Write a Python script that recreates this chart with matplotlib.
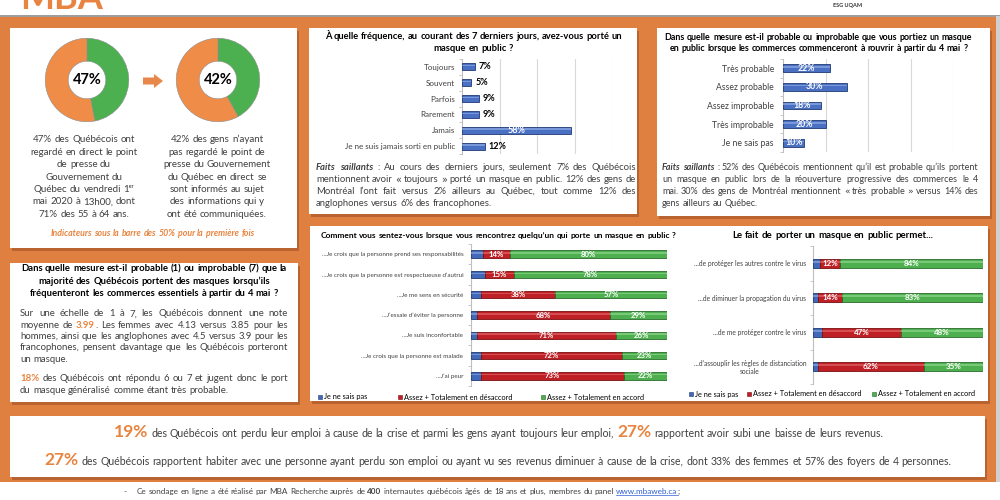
import matplotlib
matplotlib.use("Agg")
import matplotlib.pyplot as plt
from matplotlib.patches import Rectangle, Polygon

plt.rcParams['font.family'] = ['Lato', 'DejaVu Sans']

# ---------------- data ----------------
donut_pct = [47, 42]
donut_txt1 = ["47% des Québécois ont", "regardé en direct le point", "de presse du",
              "Gouvernement du", "Québec du vendredi 1ᵉʳ", "mai 2020 à 13h00, dont",
              "71% des 55 à 64 ans."]
donut_txt2 = ["42% des gens n’ayant", "pas regardé le point de", "presse du Gouvernement",
              "du Québec en direct se", "sont informés au sujet", "des informations qui y",
              "ont été communiquées."]

freq_cat = ["Toujours", "Souvent", "Parfois", "Rarement", "Jamais",
            "Je ne suis jamais sorti en public"]
freq_val = [7, 5, 9, 9, 58, 12]

prob_cat = ["Très probable", "Assez probable", "Assez improbable", "Très improbable",
            "Je ne sais pas"]
prob_val = [22, 30, 18, 20, 10]

feel_cat = ["...Je crois que la personne prend ses responsabilités",
            "...Je crois que la personne est respectueuse d’autrui",
            "...Je me sens en sécurité",
            "...J’essaie d’éviter la personne",
            "...Je suis inconfortable",
            "...Je crois que la personne est malade",
            "...J’ai peur"]
feel_nsp = [6, 7, 5, 3, 3, 5, 5]
feel_des = [14, 15, 38, 68, 71, 72, 73]
feel_acc = [80, 78, 57, 29, 26, 23, 22]

permet_cat = ["...de protéger les autres contre le virus",
              "...de diminuer la propagation du virus",
              "...de me protéger contre le virus",
              "...d’assouplir les règles de distanciation\nsociale"]
permet_nsp = [4, 3, 5, 3]
permet_des = [12, 14, 47, 62]
permet_acc = [84, 83, 48, 35]

legend_txt = ["Je ne sais pas", "Assez + Totalement en désaccord", "Assez + Totalement en accord"]

# ---------------- colours ----------------
BG = '#E08040'
SHADOW = '#A9592A'
TXT = '#404040'
ORTXT = '#E8843F'
GREEN_D = '#4CB050'
ORANGE_D = '#EF8C47'
BLUE = ('#4169B8', '#8FA9E0', '#1F3A73')
RED = ('#BE2026', '#E0686B', '#7A0F12')
GREEN = ('#4DAF4E', '#92D98F', '#2A6B2B')

fig = plt.figure(figsize=(10, 5), dpi=100)
base = fig.add_axes([0, 0, 1, 1])
base.set_xlim(0, 1000)
base.set_ylim(500, 0)
base.axis('off')
renderer = fig.canvas.get_renderer()


# ---------------- text helpers ----------------
def tw(s, **kw):
    t = base.text(0, 0, s, **kw)
    w = t.get_window_extent(renderer).width
    t.remove()
    return w


def tokens(segs):
    out = []
    for s, st in segs:
        for i, p in enumerate(s.split(' ')):
            if p:
                st2 = st
                if p in ('«', '»'):
                    st2 = dict(st, family='DejaVu Sans')
                out.append((p, st2, i > 0))
    return out


def metrics(segs, size, color):
    toks = tokens(segs)
    kws = []
    for p, st, g in toks:
        kw = dict(fontsize=size, color=color)
        kw.update(st)
        kws.append(kw)
    ws = [tw(p, **kw) for (p, _, _), kw in zip(toks, kws)]
    sp = tw('a a', fontsize=size) - tw('aa', fontsize=size)
    gaps = [g for (_, _, g) in toks]
    gaps[0] = False
    return toks, kws, ws, sp, gaps


def natural(segs, size, color=TXT):
    toks, kws, ws, sp, gaps = metrics(segs, size, color)
    return sum(ws) + sp * sum(gaps)


def put_line(segs, x0, x1, yc, size, mode='left', color=TXT):
    toks, kws, ws, sp, gaps = metrics(segs, size, color)
    ng = sum(gaps)
    gap = (x1 - x0 - sum(ws)) / ng if (mode == 'justify' and ng) else sp
    total = sum(ws) + gap * ng
    x = x0 if mode != 'center' else (x0 + x1) / 2 - total / 2
    yb = yc + 0.36 * size * 100 / 72
    placed = []
    for (p, st, g), kw, w, gg in zip(toks, kws, ws, gaps):
        if gg:
            x += gap
        base.text(x, yb, p, ha='left', va='baseline', **kw)
        placed.append((p, x, w, yb))
        x += w
    return placed


def seg(s):
    return [(s, {})] if isinstance(s, str) else s


def fit(lines, width, size=8, color=TXT):
    nat = max(natural(seg(l), size, color) for l in lines)
    return size * width / nat


def para(lines, x0, x1, y0, dy, size, color=TXT):
    for i, l in enumerate(lines):
        mode = 'justify' if i < len(lines) - 1 else 'left'
        put_line(seg(l), x0, x1, y0 + i * dy, size, mode, color)


def panel(x0, y0, x1, y1):
    base.add_patch(Rectangle((x0 + 2, y0 + 2.5), x1 - x0, y1 - y0, color=SHADOW, lw=0, alpha=0.7))
    base.add_patch(Rectangle((x0, y0), x1 - x0, y1 - y0, color='white', lw=0))


BOLD = dict(fontweight='bold')
BI = dict(fontweight='bold', fontstyle='italic')
ORB = dict(fontweight='bold', color=ORTXT)

# ---------------- background ----------------
base.add_patch(Rectangle((0, 16), 1000, 466, color=BG, lw=0))
base.add_patch(Rectangle((0, 15), 1000, 1.5, color='#9E9E9E', lw=0))
base.add_patch(Rectangle((996, 16), 4, 466, color='#D0D0D0', lw=0))
base.text(20, 9, "MBA", fontsize=26, fontweight='bold', color=ORTXT, ha='left', va='baseline')
base.text(833, 5, "ESG UQAM", fontsize=4, fontweight='bold', color='#333333', ha='left', va='center')

panel(10, 28, 297, 248)
panel(309, 28, 637, 214)
panel(657, 28, 990, 216)
panel(10, 263, 298, 402)
panel(310, 226, 988, 401)
panel(10, 416, 985, 477)

# ---------------- panel 1 : donuts ----------------
def donut(cx, cy, r, val):
    ax = fig.add_axes([(cx - r) / 1000, 1 - (cy + r) / 500, 2 * r / 1000, 2 * r / 500])
    ax.pie([val, 100 - val], colors=[GREEN_D, ORANGE_D], startangle=90, counterclock=False,
           radius=1, wedgeprops=dict(width=0.55, edgecolor='#8C8C8C', linewidth=0.4))
    ax.set_xlim(-1.03, 1.03)
    ax.set_ylim(-1.03, 1.03)
    ax.text(0, 0, f"{val}%", ha='center', va='center', fontsize=10.5, fontweight='bold', color='black')


donut(87, 80, 43, donut_pct[0])
donut(218, 80, 43, donut_pct[1])
base.add_patch(Polygon([(143, 77.5), (154, 77.5), (154, 74), (163, 81), (154, 88), (154, 84.5), (143, 84.5)],
                       closed=True, color='#E8874A', lw=0))

s1 = fit(donut_txt1 + donut_txt2, 108)
for i, l in enumerate(donut_txt1):
    put_line(seg(l), 24, 144, 139 + 12.4 * i, s1, 'center')
for i, l in enumerate(donut_txt2):
    put_line(seg(l), 157, 277, 139 + 12.4 * i, s1, 'center')
ind = "Indicateurs sous la barre des 50% pour la première fois"
put_line([(ind, BI)], 50, 255, 233, fit([[(ind, BI)]], 205, color=ORTXT), 'center', ORTXT)

# ---------------- panel 2 : frequency ----------------
t2 = ["À quelle fréquence, au courant des 7 derniers jours, avez-vous porté un", "masque en public ?"]
st2 = fit([[(t2[0], BOLD)]], 301, color='black')
put_line([(t2[0], BOLD)], 323, 624, 36, st2, 'center', 'black')
put_line([(t2[1], BOLD)], 323, 624, 48, st2, 'center', 'black')

fs2 = [[("Faits saillants", BI), (" : Au cours des derniers jours, seulement 7% des Québécois", {})],
       "mentionnent avoir « toujours » porté un masque en public. 12% des gens de",
       "Montréal l’ont fait versus 2% ailleurs au Québec, tout comme 12% des",
       "anglophones versus 6% des francophones."]
para(fs2, 316, 636, 167, 12, fit(fs2[:-1], 320))

# ---------------- panel 3 : probability ----------------
t3 = ["Dans quelle mesure est-il probable ou improbable que vous portiez un masque",
      "en public lorsque les commerces commenceront à rouvrir à partir du 4 mai ?"]
st3 = fit([[(t3[0], BOLD)]], 313, color='black')
put_line([(t3[0], BOLD)], 662, 975, 37, st3, 'center', 'black')
put_line([(t3[1], BOLD)], 662, 975, 48, st3, 'center', 'black')

fs3 = [[("Faits saillants", BI), (" : 52% des Québécois mentionnent qu’il est probable qu’ils portent", {})],
       "un masque en public lors de la réouverture progressive des commerces le 4",
       "mai. 30% des gens de Montréal mentionnent « très probable » versus 14% des",
       "gens ailleurs au Québec."]
para(fs3, 662, 978, 167, 12, fit(fs3[:-1], 316))

# ---------------- panel 4 : scale ----------------
t4 = ["Dans quelle mesure est-il probable (1) ou improbable (7) que la",
      "majorité des Québécois portent des masques lorsqu’ils",
      "fréquenteront les commerces essentiels à partir du 4 mai ?"]
st4 = fit([[(t4[0], BOLD)]], 265, color='black')
for i, l in enumerate(t4):
    put_line([(l, BOLD)], 20, 288, 268 + 12.5 * i, st4, 'center', 'black')

p4a = ["Sur une échelle de 1 à 7, les Québécois donnent une note",
       [("moyenne de", {}), (" 3.99", ORB), (". Les femmes avec 4.13 versus 3.85 pour les", {})],
       "hommes, ainsi que les anglophones avec 4.5 versus 3.9 pour les",
       "francophones, pensent davantage que les Québécois porteront",
       "un masque."]
p4b = [[("18%", ORB), (" des Québécois ont répondu 6 ou 7 et jugent donc le port", {})],
       "du masque généralisé comme étant très probable."]
sp4 = fit(p4a[:-1] + p4b[:-1], 268)
para(p4a, 20, 288, 313, 11.3, sp4)
para(p4b, 20, 288, 378, 11.3, sp4)


# ---------------- bar helpers ----------------
def chart_ax(x0, y0, x1, y1):
    ax = fig.add_axes([x0 / 1000, 1 - y1 / 500, (x1 - x0) / 1000, (y1 - y0) / 500])
    ax.patch.set_visible(False)
    for s in ('top', 'right', 'bottom'):
        ax.spines[s].set_visible(False)
    ax.spines['left'].set_color('#BFBFBF')
    ax.spines['left'].set_linewidth(0.8)
    return ax


def cyl(ax, y, w, left, h, col):
    ax.barh(y, w, left=left, height=h, color=col[0], edgecolor=col[2], linewidth=0.6, zorder=3)
    ax.barh([v - h * 0.16 for v in y], w, left=left, height=h * 0.2, color=col[1],
            linewidth=0, alpha=0.65, zorder=4)


def cat_axis(ax, cats, size, pad):
    n = len(cats)
    ax.set_ylim(n - 0.5, -0.5)
    ax.set_yticks(range(n), cats, fontsize=size, color=TXT)
    ax.set_yticks([i - 0.5 for i in range(n + 1)], minor=True)
    ax.tick_params(axis='y', which='major', length=0, pad=pad)
    ax.tick_params(axis='y', which='minor', length=2.5, color='#BFBFBF', width=0.6)


# chart 2
ax2 = chart_ax(462, 59, 612, 154)
cat_axis(ax2, freq_cat, 5.8, 5)
ax2.set_xlim(0, 80)
ax2.set_xticks([20, 40, 60, 80])
ax2.tick_params(axis='x', length=0, labelbottom=False)
ax2.grid(axis='x', color='#D9D9D9', lw=0.8)
ax2.set_axisbelow(True)
yy = list(range(len(freq_cat)))
cyl(ax2, yy, freq_val, 0, 0.45, ('#4A70C4', '#93AEE6', '#1F3A73'))
for i, v in enumerate(freq_val):
    if v > 30:
        ax2.text(v / 2, i, f"{v}%", ha='center', va='center', fontsize=6.5, fontweight='bold',
                 color='white', zorder=5)
    else:
        ax2.text(v + 2, i, f"{v}%", ha='left', va='center', fontsize=6.5, fontweight='bold',
                 color='black', zorder=5)

# chart 3
ax3 = chart_ax(783, 59, 953, 152)
cat_axis(ax3, prob_cat, 6.2, 6.5)
ax3.set_xlim(0, 80)
ax3.set_xticks([20, 40, 60, 80])
ax3.tick_params(axis='x', length=0, labelbottom=False)
ax3.grid(axis='x', color='#D9D9D9', lw=0.8)
ax3.set_axisbelow(True)
yy = list(range(len(prob_cat)))
cyl(ax3, yy, prob_val, 0, 0.42, ('#4A70C4', '#93AEE6', '#1F3A73'))
for i, v in enumerate(prob_val):
    ax3.text(v / 2, i, f"{v}%", ha='center', va='center', fontsize=6.3, fontweight='bold',
             color='white', zorder=5)


def stacked(ax, cats, nsp, des, acc, h, size, pad, lsize):
    cat_axis(ax, cats, size, pad)
    ax.set_xlim(0, 100)
    ax.set_xticks([])
    yy = list(range(len(cats)))
    left2 = [a + b for a, b in zip(nsp, des)]
    cyl(ax, yy, nsp, 0, h, BLUE)
    cyl(ax, yy, des, nsp, h, RED)
    cyl(ax, yy, acc, left2, h, GREEN)
    for i in yy:
        ax.text(nsp[i] + des[i] / 2, i, f"{des[i]}%", ha='center', va='center', fontsize=lsize,
                fontweight='bold', color='white', zorder=5)
        ax.text(left2[i] + acc[i] / 2, i, f"{acc[i]}%", ha='center', va='center', fontsize=lsize,
                fontweight='bold', color='white', zorder=5)


tA = "Comment vous sentez-vous lorsque vous rencontrez quelqu’un qui porte un masque en public ?"
put_line([(tA, BOLD)], 318, 678, 235, fit([[(tA, BOLD)]], 360, color='black'), 'center', 'black')
axA = chart_ax(471, 244, 667, 386)
stacked(axA, feel_cat, feel_nsp, feel_des, feel_acc, 0.36, 4.5, 5.5, 5.6)

tB = "Le fait de porter un masque en public permet..."
put_line([(tB, BOLD)], 733, 933, 235, fit([[(tB, BOLD)]], 200, color='black'), 'center', 'black')
axB = chart_ax(813, 246, 983, 384)
stacked(axB, permet_cat, permet_nsp, permet_des, permet_acc, 0.27, 4.8, 5, 5.8)
for lbl in axB.get_yticklabels():
    lbl.set_multialignment('center')


def legend(xs, y, size):
    for (xm, xt), lab, col in zip(xs, legend_txt, (BLUE, RED, GREEN)):
        base.add_patch(Rectangle((xm, y - 2), 4, 4, facecolor=col[0], edgecolor=col[2], lw=0.4))
        base.text(xt, y, lab, fontsize=size, color='black', ha='left', va='center')


legend([(318, 324), (398, 404), (541, 547)], 397, 5.3)
legend([(689, 695), (747, 753), (872, 878)], 394, 5.3)

# ---------------- panel 6 : bottom strip ----------------
BIG = dict(fontsize=12.5, fontweight='bold', color=ORTXT)
b1 = [("19%", BIG), (" des Québécois ont perdu leur emploi à cause de la crise et parmi les gens ayant toujours leur emploi,", {}),
      (" 27%", BIG), (" rapportent avoir subi une baisse de leurs revenus.", {})]
b2 = [("27%", BIG), (" des Québécois rapportent habiter avec une personne ayant perdu son emploi ou ayant vu ses revenus diminuer à cause de la crise, dont 33% des femmes et 57% des foyers de 4 personnes.", {})]
sb = 7.0
for _ in range(3):
    wbig = natural([b2[0]], sb)
    sb = sb * (906 - wbig) / (natural(b2, sb) - wbig)
put_line(b1, 113, 884, 433, sb, 'center')
put_line(b2, 45, 951, 461, sb, 'center')

# ---------------- footer ----------------
LINK = dict(color='#2F5FD0')
ft = [("Ce sondage en ligne a été réalisé par MBA Recherche auprès de", {}), (" 400", BOLD),
      (" internautes québécois âgés de 18 ans et plus, membres du panel", {}),
      (" www.mbaweb.ca", LINK), (";", {})]
sf = fit([ft], 540)
base.text(123, 491 + 0.36 * sf * 100 / 72, "-", fontsize=sf, color=TXT, va='baseline')
placed = put_line(ft, 137, 677, 491, sf, 'left')
for p, x, w, yb in placed:
    if p == "www.mbaweb.ca":
        base.plot([x, x + w], [yb + 1.2, yb + 1.2], color='#2F5FD0', lw=0.5)

fig.savefig("out.png", dpi=100)
